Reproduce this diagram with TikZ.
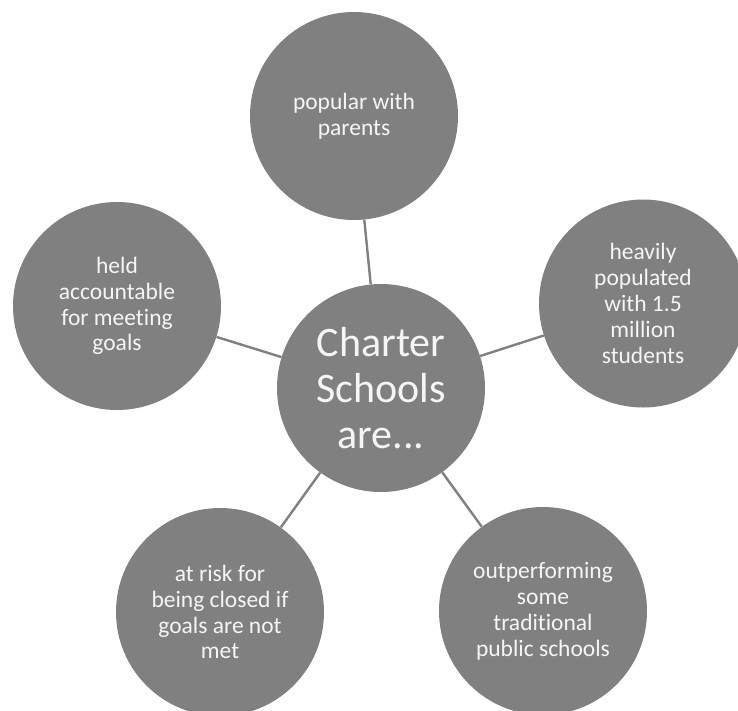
\documentclass[tikz,border=0pt]{standalone}
\usepackage{fontspec}
\setmainfont{Carlito}[RawFeature={-liga;-clig;-calt;-dlig}]
\usepackage{tikz}
\usetikzlibrary{positioning}
\usetikzlibrary{calc}

\definecolor{bubblegray}{RGB}{128,128,128}
\definecolor{bubbletext}{RGB}{245,245,245}

\tikzset{
    bubble/.style={circle, fill=bubblegray, draw=none, minimum size=208pt, inner sep=0pt,
        text=bubbletext, align=center, font=\fontsize{23.5}{25.9}\selectfont},
    hubbubble/.style={bubble, font=\fontsize{42}{46}\selectfont},
    spoke/.style={draw=bubblegray, line width=2.4pt}
}

\begin{document}
\begin{tikzpicture}[x=1pt, y=1pt]
    \useasboundingbox (0,0) rectangle (738,-710);

    \node [hubbubble] (hub) at (381,-388) {Charter\\Schools\\are...};

    \node [bubble] (parents) at ($(hub)+(-27,272)$) {popular with\\parents};
    \node [bubble] (students) at ($(hub)+(262,84.5)$) {heavily\\populated\\with 1.5\\million\\students};
    \node [bubble] (outperform) at ($(hub)+(162,-223)$) {outperforming\\some\\traditional\\public schools};
    \node [bubble] (risk) at ($(hub)+(-161,-224)$) {at risk for\\being closed if\\goals are not\\met};
    \node [bubble] (goals) at ($(hub)+(-264,82)$) {held\\accountable\\for meeting\\goals};

    % spokes from the hub out to each bubble
    \foreach \n in {parents, students, outperform, risk, goals}
        \draw [spoke] (hub) -- (\n);

\end{tikzpicture}
\end{document}
